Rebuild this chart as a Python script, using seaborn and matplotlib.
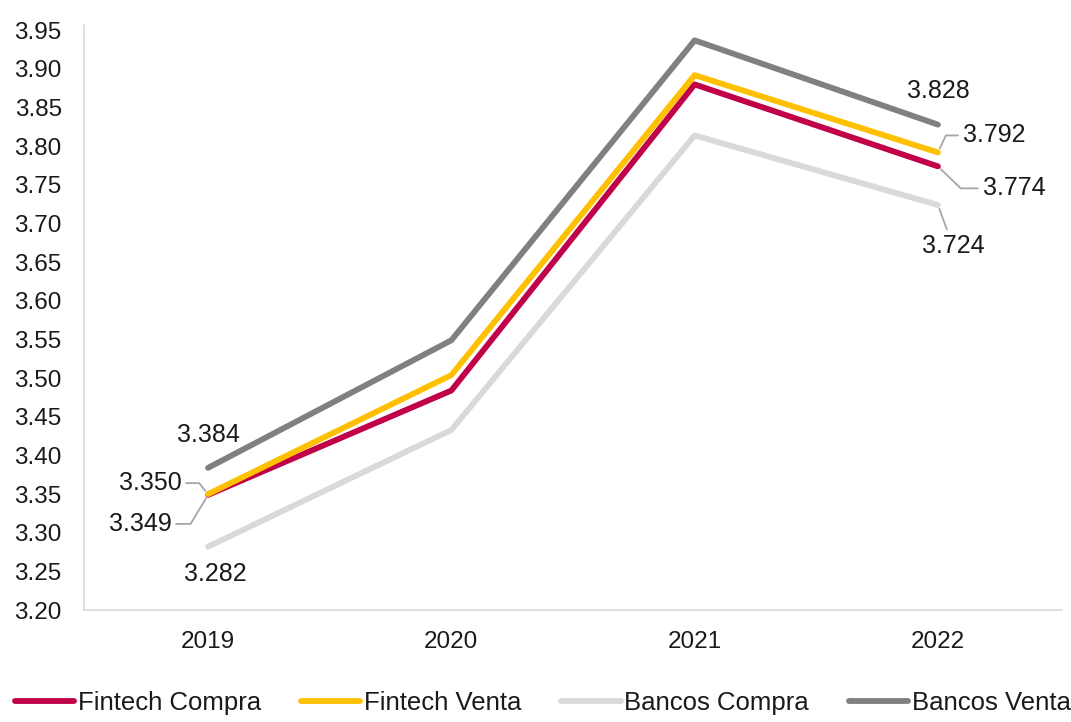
import matplotlib
matplotlib.use("Agg")
import matplotlib.pyplot as plt
import seaborn as sns
import pandas as pd

years = ["2019", "2020", "2021", "2022"]
fintech_compra = [3.349, 3.484, 3.880, 3.774]
fintech_venta = [3.350, 3.504, 3.892, 3.792]
bancos_compra = [3.282, 3.433, 3.814, 3.724]
bancos_venta = [3.384, 3.549, 3.937, 3.828]
series_names = ["Fintech Compra", "Fintech Venta", "Bancos Compra", "Bancos Venta"]
yticks = [3.20, 3.25, 3.30, 3.35, 3.40, 3.45, 3.50, 3.55, 3.60, 3.65, 3.70, 3.75,
          3.80, 3.85, 3.90, 3.95]

colors = {"Fintech Compra": "#C00049", "Fintech Venta": "#FFC000",
          "Bancos Compra": "#D9D9D9", "Bancos Venta": "#808080"}

sns.set_theme(style="white")
plt.rcParams["font.family"] = ["Liberation Sans", "DejaVu Sans"]

df = pd.DataFrame({
    "year": years * 4,
    "value": fintech_compra + fintech_venta + bancos_compra + bancos_venta,
    "serie": [s for s in series_names for _ in years],
})

fig = plt.figure(figsize=(10.71, 7.22), dpi=100)
ax = fig.add_axes([0.0784, 0.155, 0.9132, 0.81])

sns.lineplot(data=df, x="year", y="value", hue="serie", hue_order=series_names,
             palette=colors, linewidth=4.2, ax=ax, legend=False, sort=False)

ax.set_xlim(-0.51, 3.51)
ax.set_ylim(3.20, 3.9565)
ax.set_yticks(yticks)
ax.set_yticklabels([f"{t:.2f}" for t in yticks])
ax.set_xlabel("")
ax.set_ylabel("")
ax.tick_params(axis="both", length=0, labelsize=17.5, colors="#1a1a1a")
ax.tick_params(axis="y", pad=16)
ax.tick_params(axis="x", pad=15)
for side in ("top", "right"):
    ax.spines[side].set_visible(False)
for side in ("left", "bottom"):
    ax.spines[side].set_color("#D9D9D9")
    ax.spines[side].set_linewidth(1.2)

lead = dict(arrowstyle="-", color="#A6A6A6", lw=1.3, shrinkA=1, shrinkB=3)

def label(xi, val, dx, dy, conn=None):
    kw = {}
    if conn is not None:
        props = dict(lead)
        if conn != "straight":
            props["connectionstyle"] = conn
        kw["arrowprops"] = props
    ax.annotate(f"{val:.3f}", xy=(xi, val), xytext=(dx, dy),
                textcoords="offset pixels", ha="center", va="center",
                fontsize=18, color="#1a1a1a", **kw)

# 2019
label(0, bancos_venta[0], 0, 33)
label(0, fintech_venta[0], -58, 11, "angle,angleA=0,angleB=129,rad=0")
label(0, fintech_compra[0], -68, -29, "angle,angleA=0,angleB=59,rad=0")
label(0, bancos_compra[0], 7, -27)
# 2022
label(3, bancos_venta[3], 0, 34)
label(3, fintech_venta[3], 56, 17, "angle,angleA=0,angleB=65,rad=0")
label(3, fintech_compra[3], 76, -22, "angle,angleA=0,angleB=-44,rad=0")
label(3, bancos_compra[3], 15, -41, "straight")

handles = [plt.Line2D([], [], color=colors[s], lw=4.2) for s in series_names]
fig.legend(handles, series_names, loc="lower center", bbox_to_anchor=(0.507, -0.022),
           ncol=4, frameon=False, fontsize=18.5, handlelength=2.3, handletextpad=0.15,
           columnspacing=1.55, labelcolor="#1a1a1a")

fig.savefig("out.png", dpi=100)
